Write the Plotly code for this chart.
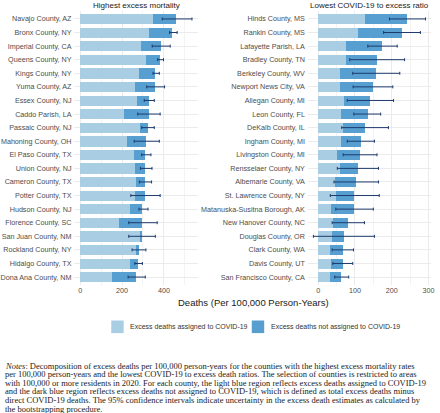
import plotly.graph_objects as go

left_counties = ["Navajo County, AZ", "Bronx County, NY", "Imperial County, CA", "Queens County, NY",
                 "Kings County, NY", "Yuma County, AZ", "Essex County, NJ", "Caddo Parish, LA",
                 "Passaic County, NJ", "Mahoning County, OH", "El Paso County, TX", "Union County, NJ",
                 "Cameron County, TX", "Potter County, TX", "Hudson County, NJ", "Florence County, SC",
                 "San Juan County, NM", "Rockland County, NY", "Hidalgo County, TX", "Dona Ana County, NM"]
left_covid = [348, 330, 295, 318, 281, 264, 272, 213, 289, 227, 261, 265, 270, 265, 239, 188, 289, 269, 240, 156]
left_total = [461, 442, 387, 384, 362, 359, 330, 329, 325, 316, 314, 314, 313, 311, 300, 300, 295, 281, 278, 269]
left_lo = [392, 427, 344, 370, 348, 318, 306, 275, 294, 258, 294, 288, 283, 242, 281, 232, 232, 248, 261, 229]
left_hi = [534, 463, 430, 398, 378, 403, 354, 382, 354, 378, 338, 343, 341, 382, 324, 368, 359, 314, 297, 311]

right_counties = ["Hinds County, MS", "Rankin County, MS", "Lafayette Parish, LA", "Bradley County, TN",
                  "Berkeley County, WV", "Newport News City, VA", "Allegan County, MI", "Leon County, FL",
                  "DeKalb County, IL", "Ingham County, MI", "Livingston County, MI", "Rensselaer County, NY",
                  "Albemarle County, VA", "St. Lawrence County, NY", "Matanuska-Susitna Borough, AK",
                  "New Hanover County, NC", "Douglas County, OR", "Clark County, WA", "Davis County, UT",
                  "San Francisco County, CA"]
right_covid = [126, 108, 75, 76, 59, 59, 71, 61, 68, 62, 50, 58, 46, 49, 34, 41, 37, 31, 34, 32]
right_total = [241, 227, 174, 160, 158, 149, 141, 134, 127, 117, 114, 107, 103, 97, 97, 81, 69, 67, 66, 63]
right_lo = [194, 178, 135, 86, 94, 95, 79, 97, 64, 79, 68, 52, 43, 33, 48, 38, -13, 38, 40, 45]
right_hi = [292, 278, 215, 235, 222, 203, 205, 170, 191, 153, 160, 164, 164, 166, 150, 126, 153, 96, 94, 83]

legend_labels = ["Excess deaths assigned to COVID-19", "Excess deaths not assigned to COVID-19"]
panel_titles = ["Highest excess mortality", "Lowest COVID-19 to excess ratio"]
x_title = "Deaths (Per 100,000 Person-Years)"
notes_lines = [
    "<i>Notes</i>: Decomposition of excess deaths per 100,000 person-years for the counties with the highest excess mortality rates",
    "per 100,000 person-years and the lowest COVID-19 to excess death ratios. The selection of counties is restricted to areas",
    "with 100,000 or more residents in 2020. For each county, the light blue region reflects excess deaths assigned to COVID-19",
    "and the dark blue region reflects excess deaths not assigned to COVID-19, which is defined as total excess deaths minus",
    "direct COVID-19 deaths. The 95% confidence intervals indicate uncertainty in the excess death estimates as calculated by",
    "the bootstrapping procedure.",
]

LIGHT = "#a9cee4"
DARK = "#569fd0"
ERR = "#1d3a6c"
W = 440
H = 413

fig = go.Figure()

panels = [
    (left_counties, left_covid, left_total, left_lo, left_hi, "x", "y"),
    (right_counties, right_covid, right_total, right_lo, right_hi, "x2", "y2"),
]
for i, (cats, cov, tot, lo, hi, xa, ya) in enumerate(panels):
    rest = [t - c for t, c in zip(tot, cov)]
    fig.add_trace(go.Bar(y=cats, x=cov, orientation="h", marker=dict(color=LIGHT, line=dict(width=0)),
                         width=0.75, name=legend_labels[0], showlegend=False, xaxis=xa, yaxis=ya,
                         hoverinfo="skip"))
    fig.add_trace(go.Bar(y=cats, x=rest, base=cov, orientation="h", marker=dict(color=DARK, line=dict(width=0)),
                         width=0.75, name=legend_labels[1], showlegend=False, xaxis=xa, yaxis=ya,
                         hoverinfo="skip"))
    fig.add_trace(go.Scatter(y=cats, x=tot, mode="markers", marker=dict(size=0.1, color=ERR, opacity=0),
                             error_x=dict(type="data", symmetric=False,
                                          array=[h - t for h, t in zip(hi, tot)],
                                          arrayminus=[t - l for t, l in zip(tot, lo)],
                                          color=ERR, thickness=1, width=1.5),
                             showlegend=False, xaxis=xa, yaxis=ya, hoverinfo="skip"))

grid = "#ebebeb"
tickfont = dict(family="Liberation Sans, Arial, sans-serif", size=7.2, color="#4d4d4d")
common_y = dict(type="category", range=[19.6, -0.6], showgrid=True, gridcolor=grid, gridwidth=0.6,
                ticks="", tickfont=tickfont, zeroline=False, showline=False, ticklabelstandoff=2)
common_x = dict(showgrid=True, gridcolor=grid, gridwidth=0.6, zeroline=False, showline=False, ticks="",
                tickfont=tickfont)

y0 = (H - 285.2) / H
y1 = (H - 10.8) / H
fig.update_layout(
    width=W, height=H, margin=dict(l=0, r=0, t=0, b=0),
    paper_bgcolor="white", plot_bgcolor="white",
    barmode="overlay", bargap=0, showlegend=False,
    xaxis=dict(domain=[75 / W, 199 / W], range=[-27, 561], tickvals=[0, 200, 400], anchor="y",
               minor=dict(showgrid=True, gridcolor="#f3f3f3", gridwidth=0.4, tickvals=[100, 300, 500]),
               **common_x),
    yaxis=dict(domain=[y0, y1], anchor="x", **common_y),
    xaxis2=dict(domain=[310 / W, 434 / W], range=[-28, 307], tickvals=[0, 100, 200, 300], anchor="y2",
                minor=dict(showgrid=True, gridcolor="#f3f3f3", gridwidth=0.4, tickvals=[50, 150, 250]),
                **common_x),
    yaxis2=dict(domain=[y0, y1], anchor="x2", **common_y),
)

# manual legend (key squares + labels)
shapes = []
annos = []
legend_y = 326.8
for color, label, sx in zip([LIGHT, DARK], legend_labels, [112, 253.5]):
    shapes.append(dict(type="rect", xref="paper", yref="paper", x0=sx / W, x1=(sx + 12.5) / W,
                       y0=(H - legend_y - 6.3) / H, y1=(H - legend_y + 6.3) / H,
                       fillcolor=color, line=dict(width=0)))
    annos.append(dict(text=label, x=(sx + 17) / W, y=(H - legend_y) / H, xref="paper", yref="paper",
                      showarrow=False, xanchor="left", yanchor="middle",
                      font=dict(family="Liberation Sans, Arial, sans-serif", size=7, color="#333333")))

for t, cx in zip(panel_titles, [137, 372]):
    annos.append(dict(text=t, x=cx / W, y=(H - 5) / H, xref="paper", yref="paper", showarrow=False,
                      xanchor="center", yanchor="middle",
                      font=dict(family="Liberation Sans, Arial, sans-serif", size=8, color="#1a1a1a")))
annos.append(dict(text=x_title, x=255 / W, y=(H - 302.5) / H, xref="paper", yref="paper", showarrow=False,
                  xanchor="center", yanchor="middle",
                  font=dict(family="Liberation Sans, Arial, sans-serif", size=9.5, color="#1a1a1a")))
for i, line in enumerate(notes_lines):
    annos.append(dict(text=line, x=3 / W, y=(H - (365.5 + i * 8.6)) / H, xref="paper", yref="paper",
                      showarrow=False, xanchor="left", yanchor="middle",
                      font=dict(family="Liberation Serif, Times New Roman, serif", size=8.5, color="#222222")))
fig.update_layout(annotations=annos, shapes=shapes)

fig.write_html("out.html", config={"displayModeBar": False},
               post_script="document.body.style.margin='0';document.body.style.overflow='hidden';")
